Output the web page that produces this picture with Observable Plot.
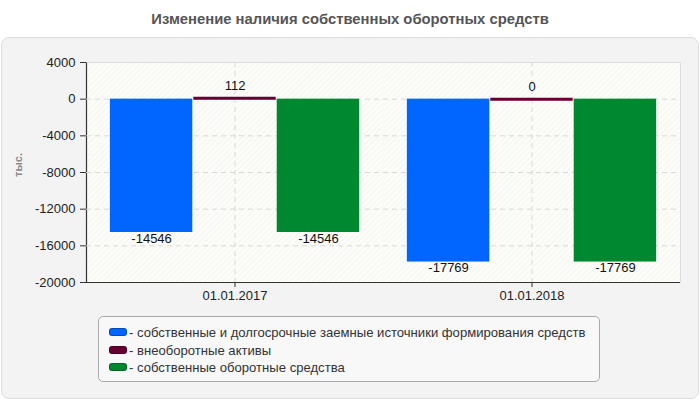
<!DOCTYPE html>
<html>
<head>
<meta charset="utf-8">
<script src="https://cdn.jsdelivr.net/npm/d3@7"></script>
<script src="https://cdn.jsdelivr.net/npm/@observablehq/plot@0.6"></script>
<style>
  html, body { margin: 0; padding: 0; background: #fff; }
  body { width: 700px; height: 400px; position: relative; overflow: hidden; font-family: "Liberation Sans", Arial, sans-serif; }
  #title { position: absolute; top: 11px; left: 0; width: 700px; text-align: center; font-weight: bold; font-size: 14.8px; color: #555; }
  #panel { position: absolute; top: 37px; left: 1px; width: 696px; height: 360px; background: #f3f3f3; border: 1px solid #ddd; border-radius: 8px; }
  #chart { position: absolute; top: 37px; left: 0; }
  #ylabel { position: absolute; left: 18px; top: 165px; transform: translate(-50%, -50%) rotate(-90deg); font-weight: bold; font-size: 11px; color: #888; white-space: nowrap; }
  #legend { position: absolute; left: 98px; top: 316px; width: 500px; height: 64px; border: 1px solid #aaa; border-radius: 5px; background: #f8f8f8; }
  .item { position: absolute; left: 10px; height: 16px; line-height: 16px; font-size: 13.1px; color: #333; white-space: nowrap; }
  .sw { display: inline-block; width: 18px; height: 8px; border-radius: 3px; margin-right: 2px; vertical-align: 1px; border: 1px solid rgba(0,0,0,0.25); box-sizing: border-box; }
</style>
</head>
<body>
<div id="title">Изменение наличия собственных оборотных средств</div>
<div id="panel"></div>
<div id="chart"></div>
<div id="ylabel">тыс.</div>
<div id="legend"></div>
<script>
const dates = ["01.01.2017", "01.01.2018"];
const seriesNames = [
  "собственные и долгосрочные заемные источники формирования средств",
  "внеоборотные активы",
  "собственные оборотные средства"
];
const seriesColors = ["#0066ff", "#660033", "#008830"];
const ownAndLongTerm = [-14546, -17769];
const nonCurrentAssets = [112, 0];
const ownWorkingCapital = [-14546, -17769];
const yTicks = [4000, 0, -4000, -8000, -12000, -16000, -20000];

const seriesValues = [ownAndLongTerm, nonCurrentAssets, ownWorkingCapital];
const data = [];
dates.forEach((d, i) => {
  seriesNames.forEach((s, j) => {
    data.push({date: d, series: s, value: seriesValues[j][i], idx: j});
  });
});
const barData = data.filter(d => d.idx !== 1);
const tickData = data.filter(d => d.idx === 1);
const centers = dates.map(d => ({date: d, series: seriesNames[1]}));

const plot = Plot.plot({
  width: 700,
  height: 270,
  marginTop: 25,
  marginBottom: 25,
  marginLeft: 85,
  marginRight: 20,
  style: {fontFamily: "Liberation Sans, Arial, sans-serif", fontSize: "13px", color: "#222", background: "transparent"},
  fx: {domain: dates, padding: 0, axis: "bottom", label: null, tickSize: 5, tickPadding: 3},
  x: {domain: seriesNames, paddingInner: 0, paddingOuter: 0.28, round: false, axis: null},
  y: {domain: [-20000, 4000], ticks: yTicks, tickFormat: d => String(d), label: null, tickSize: 6, tickPadding: 5},
  color: {domain: seriesNames, range: seriesColors},
  marks: [
    Plot.frame({fill: "#fcfcf8", stroke: "#dddddd"}),
    Plot.ruleY(yTicks.slice(1, -1), {stroke: "#d8d8d8", strokeDasharray: "5,4"}),
    Plot.ruleX(centers, {x: "series", fx: "date", stroke: "#d8d8d8", strokeDasharray: "5,4"}),
    Plot.barY(barData, {x: "series", fx: "date", y: "value", fill: "series", insetLeft: 0.5, insetRight: 0.5}),
    Plot.tickY(tickData, {x: "series", fx: "date", y: "value", stroke: "series", strokeWidth: 3, insetLeft: 0.5, insetRight: 0.5}),
    Plot.text(barData, {x: "series", fx: "date", y: "value", text: d => String(d.value), lineAnchor: "top", dy: 1, fill: "#111"}),
    Plot.text(tickData, {x: "series", fx: "date", y: "value", text: d => String(d.value), lineAnchor: "bottom", dy: -8, fill: "#111"}),
    Plot.ruleY([-20000], {stroke: "#333", strokeWidth: 1.2})
  ]
});
document.getElementById("chart").appendChild(plot);

// hatch pattern for plot background
const svg = d3.select(plot);
const defs = svg.insert("defs", ":first-child");
const pat = defs.append("pattern").attr("id", "hatch").attr("patternUnits", "userSpaceOnUse")
  .attr("width", 4).attr("height", 4).attr("patternTransform", "rotate(45)");
pat.append("rect").attr("width", 4).attr("height", 4).attr("fill", "#fcfcf8");
pat.append("line").attr("x1", 0).attr("y1", 0).attr("x2", 0).attr("y2", 4).attr("stroke", "#efefe9").attr("stroke-width", 1);

// frame rects: hatch fill; keep only outer edges
const frameRects = [];
svg.selectAll('[aria-label="frame"]').each(function() {
  if (this.tagName.toLowerCase() === "rect") frameRects.push(this);
  d3.select(this).selectAll("rect").each(function() { frameRects.push(this); });
});
frameRects.forEach((r, i) => {
  const w = +r.getAttribute("width"), h = +r.getAttribute("height");
  r.setAttribute("fill", "url(#hatch)");
  if (i === frameRects.length - 1) {
    r.setAttribute("stroke-dasharray", `${w + h} ${w + h}`);
  } else {
    r.setAttribute("stroke-dasharray", `${w} ${w + 2 * h}`);
  }
});
if (frameRects.length) {
  const r0 = frameRects[0];
  const w = +r0.getAttribute("width"), h = +r0.getAttribute("height");
  const copy = r0.cloneNode();
  copy.setAttribute("fill", "none");
  copy.setAttribute("stroke", "#333");
  copy.setAttribute("stroke-width", 1.2);
  copy.setAttribute("stroke-dasharray", `0 ${2 * w + h} ${h}`);
  r0.parentNode.insertBefore(copy, r0.nextSibling);
}
svg.selectAll('[aria-label^="y-axis"] path, [aria-label^="fx-axis"] path').attr("stroke", "#333");

const legend = document.getElementById("legend");
seriesNames.forEach((s, i) => {
  const it = document.createElement("div");
  it.className = "item";
  it.style.top = (8 + i * 17.5) + "px";
  const sw = document.createElement("span");
  sw.className = "sw";
  sw.style.background = seriesColors[i];
  it.appendChild(sw);
  it.appendChild(document.createTextNode("- " + s));
  legend.appendChild(it);
});
</script>
</body>
</html>
